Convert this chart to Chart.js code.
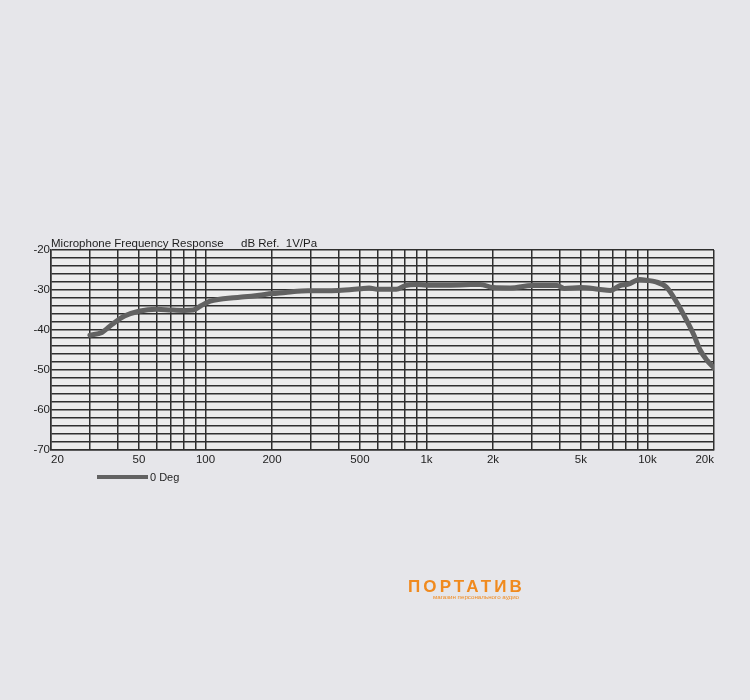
<!DOCTYPE html>
<html>
<head>
<meta charset="utf-8">
<script src="https://cdn.jsdelivr.net/npm/chart.js@4"></script>
<style>
  html, body { margin: 0; padding: 0; background: #e6e6ea; }
  #wrap { position: relative; width: 750px; height: 700px; }
  canvas { display: block; }
  #logo { position: absolute; left: 408px; top: 578px; font-family: "Liberation Sans", Arial, sans-serif; color: #f08a1e; }
  #logo .big { font-size: 17px; font-weight: bold; letter-spacing: 3.1px; line-height: 17px; }
  #logo .small { position: absolute; left: 25px; top: 15px; font-size: 6.2px; white-space: nowrap; }
</style>
</head>
<body>
<div id="wrap">
  <canvas id="c" width="750" height="700"></canvas>
  <div id="logo"><div class="big">ПОРТАТИВ</div><div class="small">магазин персонального аудио</div></div>
</div>
<script>
// ---- data ----
const frequencies = [30, 34, 38, 43, 50, 60, 70, 80, 88, 95, 105, 116, 130, 150, 175, 200, 230, 260, 300, 400, 500, 550, 600, 730, 800, 900, 1000, 1200, 1500, 1750, 2000, 2400, 3000, 3900, 4200, 5000, 6000, 6800, 7500, 8200, 9200, 10000, 10800, 12200, 13600, 15000, 16200, 17300, 18600, 20000];
const response0Deg = [-41.3, -40.6, -38.5, -36.5, -35.3, -34.8, -35.0, -35.1, -35.0, -34.0, -32.8, -32.3, -32.0, -31.7, -31.3, -30.9, -30.6, -30.3, -30.2, -30.1, -29.7, -29.5, -29.8, -29.8, -28.9, -28.6, -28.8, -28.8, -28.7, -28.6, -29.4, -29.5, -28.9, -28.9, -29.6, -29.4, -29.8, -30.1, -28.9, -28.5, -27.4, -27.6, -27.9, -29.3, -33.2, -37.5, -41.2, -45.0, -47.6, -49.5];
const seriesLabel = "0 Deg";
const xGridValues = [20, 30, 40, 50, 60, 70, 80, 90, 100, 200, 300, 400, 500, 600, 700, 800, 900, 1000, 2000, 3000, 4000, 5000, 6000, 7000, 8000, 9000, 10000, 20000];
const xTickLabels = {20: "20", 50: "50", 100: "100", 200: "200", 500: "500", 1000: "1k", 2000: "2k", 5000: "5k", 10000: "10k", 20000: "20k"};
const yTickLabels = [-20, -30, -40, -50, -60, -70];
const chartTitle = "Microphone Frequency Response";
const chartUnits = "dB Ref.  1V/Pa";

const FONT = '"Liberation Sans", Arial, sans-serif';
const lineColor = '#626262';

const points = frequencies.map((f, i) => ({x: f, y: response0Deg[i]}));

const decorPlugin = {
  id: 'decor',
  beforeDraw(chart) {
    const {ctx, chartArea: a} = chart;
    ctx.save();
    ctx.fillStyle = '#ececec';
    ctx.fillRect(a.left, a.top, a.right - a.left, a.bottom - a.top);
    ctx.restore();
  },
  afterDraw(chart) {
    const {ctx, chartArea: a} = chart;
    ctx.save();
    ctx.fillStyle = '#1e1e1e';
    ctx.font = '11.5px ' + FONT;
    ctx.textBaseline = 'alphabetic';
    ctx.textAlign = 'left';
    ctx.fillText(chartTitle, a.left, a.top - 3);
    ctx.fillText(chartUnits, a.left + 190, a.top - 3);
    // legend
    const ds = chart.data.datasets[0];
    const lx = a.left + 46, ly = a.bottom + 27;
    ctx.strokeStyle = ds.borderColor;
    ctx.lineWidth = 4;
    ctx.beginPath();
    ctx.moveTo(lx, ly);
    ctx.lineTo(lx + 51, ly);
    ctx.stroke();
    ctx.fillStyle = '#1e1e1e';
    ctx.font = '11px ' + FONT;
    ctx.textBaseline = 'middle';
    ctx.fillText(ds.label, lx + 53, ly + 1);
    ctx.restore();
  }
};

new Chart(document.getElementById('c'), {
  type: 'line',
  data: {
    datasets: [{
      label: seriesLabel,
      data: points,
      borderColor: lineColor,
      borderWidth: 5,
      pointRadius: 0,
      fill: false,
      cubicInterpolationMode: 'monotone',
      borderCapStyle: 'round',
      borderJoinStyle: 'round'
    }]
  },
  options: {
    responsive: false,
    animation: false,
    devicePixelRatio: 1,
    layout: { padding: { left: 0, top: 250, right: 36, bottom: 220 } },
    plugins: { legend: { display: false }, tooltip: { enabled: false }, title: { display: false } },
    scales: {
      x: {
        type: 'logarithmic',
        min: 20,
        max: 20000,
        afterBuildTicks: (scale) => { scale.ticks = xGridValues.map(v => ({value: v})); },
        afterFit: (scale) => { scale.height = 30; },
        ticks: {
          autoSkip: false,
          maxRotation: 0,
          minRotation: 0,
          align: 'inner',
          padding: 3,
          color: '#1e1e1e',
          font: { family: FONT, size: 11.5 },
          callback: (value) => xTickLabels[value] !== undefined ? xTickLabels[value] : ''
        },
        grid: { color: '#2f2f2f', lineWidth: 1.5, drawTicks: false },
        border: { color: '#2f2f2f', width: 1.5 }
      },
      y: {
        min: -70,
        max: -20,
        afterFit: (scale) => { scale.width = 51; },
        ticks: {
          stepSize: 2,
          autoSkip: false,
          padding: 1,
          color: '#1e1e1e',
          font: { family: FONT, size: 11.5 },
          callback: (value) => yTickLabels.includes(value) ? String(value) : ''
        },
        grid: { color: '#2f2f2f', lineWidth: 1.5, drawTicks: false },
        border: { color: '#2f2f2f', width: 1.5 }
      }
    }
  },
  plugins: [decorPlugin]
});
</script>
</body>
</html>
